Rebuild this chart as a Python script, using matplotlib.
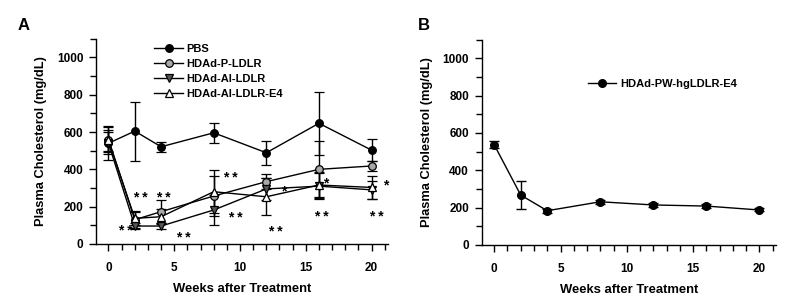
import matplotlib
matplotlib.use("Agg")
import matplotlib.pyplot as plt
import numpy as np
from matplotlib.ticker import MultipleLocator

plt.rcParams['font.family'] = ['Liberation Sans', 'DejaVu Sans']
plt.rcParams['font.weight'] = 'bold'
plt.rcParams['axes.labelweight'] = 'bold'

weeks = [0, 2, 4, 8, 12, 16, 20]

# panel A
pbs = [540, 605, 521, 596, 489, 647, 503]
pbs_err = [90, 158, 27, 53, 65, 170, 58]
p_ldlr = [560, 130, 173, 257, 334, 400, 418]
p_ldlr_err = [65, 45, 63, 107, 40, 150, 25]
ai_ldlr = [540, 96, 96, 182, 295, 310, 290]
ai_ldlr_err = [60, 17, 15, 80, 60, 70, 50]
e4 = [555, 137, 146, 280, 253, 316, 303]
e4_err = [55, 35, 40, 116, 100, 70, 60]

# significance marks (x, y, text)
stars_x = [1.25, 2.45, 4.2, 5.66, 9.24, 9.64, 13.3, 12.66, 16.53, 16.2, 21.06, 20.33]
stars_y = [93, 268, 268, 57, 379, 164, 307, 89, 346, 168, 339, 168]
stars_txt = ['* *', '* *', '* *', '* *', '* *', '* *', '*', '* *', '*', '* *', '*', '* *']

# panel B
pw = [537, 267, 183, 231, 214, 208, 187]
pw_err = [20, 76, 10, 10, 12, 10, 8]

fig = plt.figure(figsize=(8, 3.08), dpi=100)
axA = fig.add_axes([0.12, 0.208, 0.365, 0.666])
axB = fig.add_axes([0.602, 0.205, 0.368, 0.666])

def style(ax):
    ax.set_xlim(-0.95, 21.25)
    ax.set_ylim(0, 1100)
    ax.spines['top'].set_visible(False)
    ax.spines['right'].set_visible(False)
    ax.xaxis.set_major_locator(MultipleLocator(5))
    ax.xaxis.set_minor_locator(MultipleLocator(1))
    ax.yaxis.set_major_locator(MultipleLocator(200))
    ax.yaxis.set_minor_locator(MultipleLocator(100))
    ax.set_yticks([0, 200, 400, 600, 800, 1000])
    ax.tick_params(which='major', length=5, width=1, labelsize=8.5)
    ax.tick_params(which='minor', length=4, width=1)
    ax.tick_params(axis='x', which='major', pad=8)
    ax.tick_params(axis='y', which='major', pad=4)
    for s in ax.spines.values():
        s.set_linewidth(1)
    ax.set_xlabel('Weeks after Treatment', fontsize=9.4)
    ax.set_ylabel('Plasma Cholesterol (mg/dL)', fontsize=9.3, labelpad=7)
    ax.xaxis.set_label_coords(0.5, -0.19)

series = [
    (pbs, pbs_err, 'PBS', 'o', 'black'),
    (p_ldlr, p_ldlr_err, 'HDAd-P-LDLR', 'o', '#a8a8a8'),
    (ai_ldlr, ai_ldlr_err, 'HDAd-AI-LDLR', 'v', '#555555'),
    (e4, e4_err, 'HDAd-AI-LDLR-E4', '^', 'white'),
]
for vals, err, lab, mk, fc in series:
    axA.errorbar(weeks, vals, yerr=err, color='black', marker=mk, markersize=5.5,
                 markerfacecolor=fc, markeredgecolor='black', markeredgewidth=0.9,
                 linewidth=1, elinewidth=1, capsize=3.5, capthick=1, label=lab)

for x, y, t in zip(stars_x, stars_y, stars_txt):
    axA.text(x, y - 45, t, ha='center', va='baseline', fontsize=10, fontweight='bold')

style(axA)
hA, lA = axA.get_legend_handles_labels()
hA = [h[0] for h in hA]
axA.legend(hA, lA, loc='upper left', bbox_to_anchor=(0.2, 0.975), frameon=False,
           borderaxespad=0, borderpad=0, handlelength=2.6,
           handletextpad=0.3, labelspacing=0.45, prop={'weight': 'bold', 'size': 8})

axB.errorbar(weeks, pw, yerr=pw_err, color='black', marker='o', markersize=5.5,
             markerfacecolor='black', markeredgecolor='black', linewidth=1,
             elinewidth=1, capsize=3.5, capthick=1, label='HDAd-PW-hgLDLR-E4')
style(axB)
hB, lB = axB.get_legend_handles_labels()
axB.legend([hB[0][0]], lB, loc='center left', bbox_to_anchor=(0.36, 0.785),
           frameon=False, borderaxespad=0, borderpad=0, handlelength=2.6,
           handletextpad=0.3, prop={'weight': 'bold', 'size': 8})

fig.text(18 / 800, 1 - 26 / 308, 'A', fontsize=12, fontweight='bold', va='center')
fig.text(418 / 800, 1 - 26 / 308, 'B', fontsize=12, fontweight='bold', va='center')

fig.savefig('out.png', dpi=100)
